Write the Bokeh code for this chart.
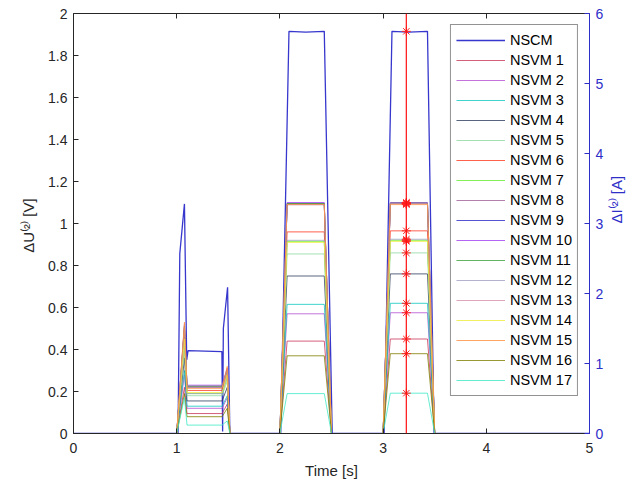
import math
from bokeh.plotting import figure
from bokeh.models import (Range1d, LinearAxis, Legend, LegendItem, Span,
                          FixedTicker, CustomJSTickFormatter)
from bokeh.embed import file_html
from bokeh.resources import INLINE

# ---------------- data ----------------
series_names = ["NSCM"] + [f"NSVM {i}" for i in range(1, 18)]
series_colors = ["#1414c4",
                 "#c8385a", "#b450d2", "#12c8c0", "#2f3f5f", "#8fd8a0",
                 "#ff3a20", "#66ee30", "#a0609a", "#2828c8", "#a040f0",
                 "#3ca03c", "#a0a0c4", "#d690aa", "#ecec3c", "#ff9040",
                 "#808000", "#40e8c4"]

# NSCM current (right axis, A)
nscm_time = [0.0, 1.013, 1.03, 1.075, 1.097, 1.11, 1.438, 1.445, 1.452, 1.493,
             1.515, 2.008, 2.088, 2.25, 2.43, 2.507, 3.01, 3.086, 3.25, 3.43,
             3.494, 5.0]
nscm_current = [0.0, 0.0, 2.57, 3.28, 1.05, 1.185, 1.17, 0.03, 1.50, 2.09,
                0.0, 0.0, 5.745, 5.735, 5.745, 0.0, 0.0, 5.745, 5.735, 5.745,
                0.0, 0.0]

# NSVM voltage (left axis, V): event-1 spike, plateau, end spike, event-2/3 plateau
nsvm_spike1 = [0.22, 0.28, 0.30, 0.36, 0.41, 0.46, 0.44, 0.51, 0.50,
               0.52, 0.51, 0.44, 0.50, 0.45, 0.53, 0.19, 0.17]
nsvm_plateau1 = [0.095, 0.12, 0.13, 0.155, 0.18, 0.205, 0.19, 0.225, 0.22,
                 0.23, 0.225, 0.19, 0.22, 0.195, 0.215, 0.08, 0.04]
nsvm_spike2 = [0.14, 0.17, 0.18, 0.22, 0.25, 0.28, 0.27, 0.31, 0.30,
               0.31, 0.30, 0.27, 0.30, 0.28, 0.32, 0.12, 0.06]
nsvm_level2 = [0.44, 0.57, 0.615, 0.75, 0.855, 0.96, 0.915, 1.095, 1.09,
               1.10, 1.095, 0.92, 1.09, 0.91, 1.09, 0.37, 0.19]
nsvm_level3 = [0.45, 0.575, 0.62, 0.76, 0.86, 0.965, 0.92, 1.097, 1.095,
               1.10, 1.097, 0.925, 1.095, 0.915, 1.09, 0.38, 0.192]
nsvm_time = [0.0, 1.0, 1.075, 1.10, 1.44, 1.49, 1.515, 2.0, 2.07, 2.43, 2.5,
             3.0, 3.07, 3.43, 3.5, 5.0]

cursor_time = 3.225

x_ticks = [0, 1, 2, 3, 4, 5]
yl_ticks = [0, 0.2, 0.4, 0.6, 0.8, 1, 1.2, 1.4, 1.6, 1.8, 2]
yr_ticks = [0, 1, 2, 3, 4, 5, 6]

# ---------------- figure ----------------
AX = "#262626"
BLUE = "#2e2ec8"
FONT = "Liberation Sans"

p = figure(width=636, height=486, output_backend="svg", toolbar_location=None,
           x_range=Range1d(0, 5), y_range=Range1d(0, 2),
           min_border_left=73, min_border_right=46, min_border_top=13,
           min_border_bottom=53, outline_line_color=None)
p.extra_y_ranges = {"cur": Range1d(0, 6)}
p.xgrid.visible = False
p.ygrid.visible = False
p.background_fill_color = "white"


def style(ax, color):
    ax.axis_line_color = color
    ax.major_tick_line_color = color
    ax.major_tick_in = 5
    ax.major_tick_out = 0
    ax.minor_tick_line_color = None
    ax.major_label_text_color = color
    ax.major_label_text_font = FONT
    ax.major_label_text_font_size = "14px"
    ax.axis_label_text_color = color
    ax.axis_label_text_font = FONT
    ax.axis_label_text_font_size = "15px"
    ax.axis_label_text_font_style = "normal"


xa = p.xaxis[0]
style(xa, AX)
xa.ticker = FixedTicker(ticks=x_ticks)
xa.axis_label = "Time [s]"
xa.major_label_standoff = 9
xa.axis_label_standoff = 6

ya = p.yaxis[0]
style(ya, AX)
ya.ticker = FixedTicker(ticks=yl_ticks)
ya.formatter = CustomJSTickFormatter(code="return String(Math.round(tick*10)/10)")
ya.axis_label = "ΔU⁽²⁾  [V]"
ya.major_label_standoff = 6
ya.axis_label_standoff = 8

ra = LinearAxis(y_range_name="cur")
style(ra, BLUE)
ra.ticker = FixedTicker(ticks=yr_ticks)
ra.axis_label = "ΔI⁽²⁾  [A]"
ra.major_label_standoff = 6
ra.axis_label_standoff = 10
if "axis_label_orientation" in ra.properties():
    ra.axis_label_orientation = math.pi / 2
p.add_layout(ra, "right")

ta = LinearAxis()
style(ta, AX)
ta.ticker = FixedTicker(ticks=x_ticks)
ta.major_label_text_font_size = "1px"
ta.major_label_text_alpha = 0
ta.major_label_standoff = 0
p.add_layout(ta, "above")

# ---------------- lines ----------------
renderers = []
r = p.line(nscm_time, nscm_current, y_range_name="cur",
           line_color=series_colors[0], line_width=1.3, line_alpha=0.85)
renderers.append(r)
for i in range(17):
    vals = [0.0, 0.0, nsvm_spike1[i], nsvm_plateau1[i], nsvm_plateau1[i],
            nsvm_spike2[i], 0.0, 0.0, nsvm_level2[i], nsvm_level2[i], 0.0,
            0.0, nsvm_level3[i], nsvm_level3[i], 0.0, 0.0]
    r = p.line(nsvm_time, vals, line_color=series_colors[i + 1],
               line_width=1, line_alpha=0.8)
    renderers.append(r)

p.add_layout(Span(location=cursor_time, dimension="height",
                  line_color="#ff1010", line_width=1.2))
p.scatter([cursor_time] * 17, nsvm_level3, marker="asterisk", size=9,
          line_color="#ff2020", line_width=1)
p.scatter([cursor_time], [nscm_current[17]], y_range_name="cur",
          marker="asterisk", size=9, line_color="#ff2020", line_width=1)

legend = Legend(items=[LegendItem(label=n, renderers=[rr])
                       for n, rr in zip(series_names, renderers)],
                location="top_right", margin=11, padding=5, spacing=0,
                label_height=20, glyph_height=20, glyph_width=49,
                label_standoff=5, label_text_font=FONT,
                label_text_font_size="14.5px", label_text_color="#000000",
                border_line_color=AX, border_line_width=1,
                background_fill_color="white", background_fill_alpha=1)
p.add_layout(legend)

open("out.html", "w").write(file_html(p, INLINE))
